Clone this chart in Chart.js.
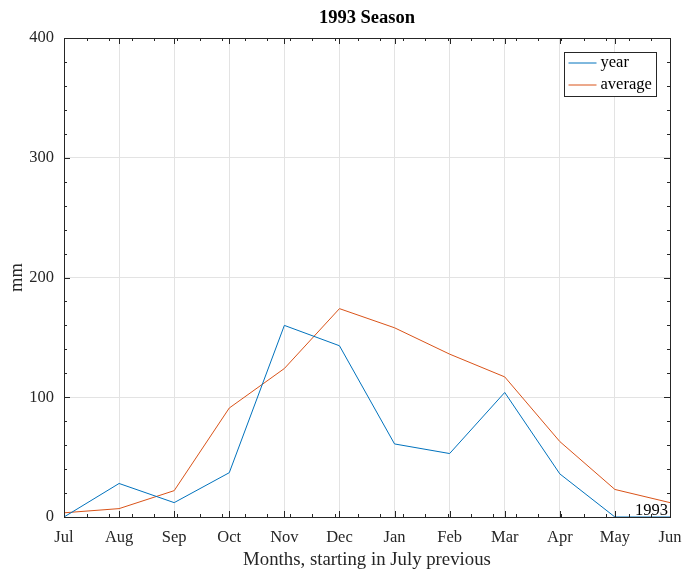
<!DOCTYPE html>
<html>
<head>
<meta charset="utf-8">
<script src="https://cdn.jsdelivr.net/npm/chart.js@4"></script>
<style>
  html, body { margin: 0; padding: 0; background: #fff; }
  #wrap { width: 684px; height: 576px; }
</style>
</head>
<body>
<div id="wrap"><canvas id="rainChart" width="684" height="576"></canvas></div>
<script>
// season data (mm)
const months = ["Jul", "Aug", "Sep", "Oct", "Nov", "Dec", "Jan", "Feb", "Mar", "Apr", "May", "Jun"];
const yearRain = [0, 28, 12, 37, 160, 143, 61, 53, 104, 36, 0, 0];
const averageRain = [3.5, 7, 22, 91, 124, 174, 158, 136, 117, 63, 23, 12];
const yTicks = [0, 100, 200, 300, 400];
const seasonLabel = "1993";

const serif = "'Liberation Serif', 'Times New Roman', serif";
const axisColor = "#262626";
const blue = "#0072bd";
const orange = "#d95319";

// box, inward ticks, legend and the year note, drawn on top like the original
const boxPlugin = {
  id: "boxPlugin",
  afterDraw(chart) {
    const { ctx, chartArea: a, scales } = chart;
    const x = scales.x, y = scales.y;
    ctx.save();
    ctx.strokeStyle = axisColor;
    ctx.lineWidth = 1;
    ctx.strokeRect(Math.round(a.left) + 0.5, Math.round(a.top) + 0.5,
      Math.round(a.right - a.left), Math.round(a.bottom - a.top));

    ctx.beginPath();
    // x major + minor ticks
    months.forEach((m, i) => {
      const px = Math.round(x.getPixelForValue(i)) + 0.5;
      ctx.moveTo(px, a.bottom); ctx.lineTo(px, a.bottom - 6);
      ctx.moveTo(px, a.top); ctx.lineTo(px, a.top + 6);
    });
    for (let v = 0.41; v < months.length - 1; v += 0.41) {
      const px = Math.round(x.getPixelForValue(v)) + 0.5;
      ctx.moveTo(px, a.bottom); ctx.lineTo(px, a.bottom - 3);
      ctx.moveTo(px, a.top); ctx.lineTo(px, a.top + 3);
    }
    // y major + minor ticks
    for (let v = 0; v <= 400; v += 20) {
      const py = Math.round(y.getPixelForValue(v)) + 0.5;
      const len = v % 100 === 0 ? 6 : 3;
      ctx.moveTo(a.left, py); ctx.lineTo(a.left + len, py);
      ctx.moveTo(a.right, py); ctx.lineTo(a.right - len, py);
    }
    ctx.stroke();

    // legend
    const lx = 564.5, ly = 52.5, lw = 92, lh = 44;
    ctx.fillStyle = "#fff";
    ctx.fillRect(lx, ly, lw, lh);
    ctx.strokeRect(lx, ly, lw, lh);
    ctx.font = "16.5px " + serif;
    ctx.textBaseline = "middle";
    ctx.textAlign = "left";
    chart.data.datasets.forEach((ds, i) => {
      const rowY = ly + 10.5 + i * 22;
      ctx.strokeStyle = ds.borderColor;
      ctx.beginPath();
      ctx.moveTo(lx + 4, rowY); ctx.lineTo(lx + 32, rowY);
      ctx.stroke();
      ctx.fillStyle = "#000";
      ctx.fillText(ds.label, lx + 36, rowY);
    });

    // season note in the lower right corner
    ctx.textAlign = "right";
    ctx.textBaseline = "alphabetic";
    ctx.fillStyle = "#000";
    ctx.fillText(seasonLabel, a.right - 2, a.bottom - 2.5);
    ctx.restore();
  }
};

new Chart(document.getElementById("rainChart"), {
  type: "line",
  data: {
    labels: months,
    datasets: [
      { label: "year", data: yearRain, borderColor: blue, borderWidth: 1, pointRadius: 0, fill: false, tension: 0 },
      { label: "average", data: averageRain, borderColor: orange, borderWidth: 1, pointRadius: 0, fill: false, tension: 0 }
    ]
  },
  options: {
    responsive: false,
    animation: false,
    layout: { padding: { top: 0, right: 14, left: 0, bottom: 0 } },
    plugins: {
      legend: { display: false },
      tooltip: { enabled: false },
      title: {
        display: true,
        text: seasonLabel + " Season",
        fullSize: false,
        color: "#000",
        font: { family: serif, size: 18.5, weight: "bold" },
        padding: { top: 7.5, bottom: 8.3 }
      }
    },
    scales: {
      x: {
        type: "category",
        offset: false,
        afterFit: s => { s.height = 59; s.paddingRight = 0; },
        grid: { color: "#e3e3e3", drawTicks: false },
        border: { display: false },
        ticks: { color: "#262626", font: { family: serif, size: 16.5 }, padding: 11, maxRotation: 0, autoSkip: false },
        title: {
          display: true,
          text: "Months, starting in July previous",
          color: "#262626",
          font: { family: serif, size: 18.8 },
          padding: { top: 0, bottom: 4.5 }
        }
      },
      y: {
        min: 0,
        max: 400,
        afterFit: s => { s.width = 64; },
        afterBuildTicks: s => { s.ticks = yTicks.map(v => ({ value: v })); },
        grid: { color: "#e3e3e3", drawTicks: false },
        border: { display: false },
        ticks: { color: "#262626", font: { family: serif, size: 16.5 }, padding: 10 },
        title: {
          display: true,
          text: "mm",
          color: "#262626",
          font: { family: serif, size: 18.5 },
          padding: { top: 6, bottom: 0 }
        }
      }
    }
  },
  plugins: [boxPlugin]
});
</script>
</body>
</html>
